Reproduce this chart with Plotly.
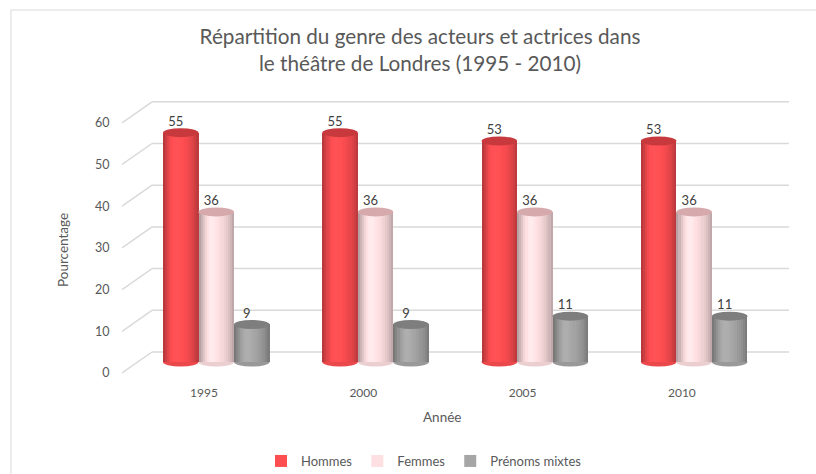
import plotly.graph_objects as go

# ---- data -------------------------------------------------------------
years = ["1995", "2000", "2005", "2010"]
hommes = [55, 55, 53, 53]
femmes = [36, 36, 36, 36]
mixtes = [9, 9, 11, 11]
series_names = ["Hommes", "Femmes", "Prénoms mixtes"]

# ---- geometry (pixels of the 816x474 page) ----------------------------
W, H = 816, 474
PLOT_L, PLOT_R = 122, 789          # plot area left/right
PLOT_T, PLOT_B = 95, 376           # plot area top/bottom
PX_PER_UNIT = 4.17                 # vertical scale
ZERO_PX = 362                      # pixel row of value 0 at bar depth
CAT0_PX, CAT_STEP = 204, 159.3     # first category label and spacing
FRONT = 11 / PX_PER_UNIT           # front plane lies below bar depth
BACK = 10 / PX_PER_UNIT            # back wall lies above bar depth
BACK_DX = 30 / CAT_STEP            # back wall starts to the right

y_range = [(ZERO_PX - PLOT_B) / PX_PER_UNIT, (ZERO_PX - PLOT_T) / PX_PER_UNIT]
x_range = [(PLOT_L - CAT0_PX) / CAT_STEP, (PLOT_R - CAT0_PX) / CAT_STEP]
x_front0 = x_range[0]


def px_paper_x(px):
    return (px - PLOT_L) / (PLOT_R - PLOT_L)


def px_paper_y(py):
    return (PLOT_B - py) / (PLOT_B - PLOT_T)


bar_w = 35.5 / CAT_STEP
first_off = (163 - CAT0_PX) / CAT_STEP
offsets = [first_off, first_off + bar_w, first_off + 2 * bar_w]

base_colors = [(255, 78, 82), (255, 224, 226), (166, 166, 166)]
top_colors = ["#c7393c", "#d6aaac", "#7e7e7e"]
# left-to-right lighting across a cylinder
shade = [0.72, 0.80, 0.88, 0.95, 1.0, 1.04, 1.05, 1.04, 1.02, 1.0, 0.98, 0.96,
         0.93, 0.90, 0.86, 0.81, 0.75]


def rgb(c, f=1.0):
    return "rgb(%d,%d,%d)" % tuple(max(0, min(255, round(v * f))) for v in c)


xs = list(range(len(years)))
fig = go.Figure()
shapes = []
ell_h = 9 / PX_PER_UNIT

# back wall gridlines and side-wall diagonals
for v in range(0, 61, 10):
    shapes.append(dict(type="line", xref="x", yref="y", layer="below",
                       x0=x_front0 + BACK_DX, x1=x_range[1], y0=v + BACK, y1=v + BACK,
                       line=dict(color="#d9d9d9", width=1.5)))
    shapes.append(dict(type="line", xref="x", yref="y", layer="below",
                       x0=x_front0, x1=x_front0 + BACK_DX, y0=v - FRONT, y1=v + BACK,
                       line=dict(color="#d9d9d9", width=1.5)))

# cylinders: each strip runs to the right edge so the next one covers it
n = len(shade)
strip_w = bar_w / n
for s, vals in enumerate([hommes, femmes, mixtes]):
    for k, f in enumerate(shade):
        fig.add_trace(go.Bar(
            x=xs, y=vals, name=series_names[s], legendgroup=series_names[s],
            showlegend=(k == 9), offset=offsets[s] + k * strip_w, width=bar_w - k * strip_w,
            marker=dict(color=rgb(base_colors[s], f), line=dict(width=0)),
            hoverinfo="skip",
        ))
    for i, v in enumerate(vals):
        x0 = i + offsets[s]
        shapes.append(dict(type="circle", xref="x", yref="y", layer="between",
                           x0=x0, x1=x0 + bar_w, y0=-ell_h / 2, y1=ell_h / 2,
                           fillcolor=rgb(base_colors[s], 0.92), line=dict(width=0)))
        shapes.append(dict(type="circle", xref="x", yref="y", layer="above",
                           x0=x0, x1=x0 + bar_w, y0=v - ell_h / 2, y1=v + ell_h / 2,
                           fillcolor=top_colors[s], line=dict(width=0)))

# value labels, lifted just above the cylinder caps by an invisible marker
lab_x, lab_y, lab_t = [], [], []
for s, vals in enumerate([hommes, femmes, mixtes]):
    for i, v in enumerate(vals):
        lab_x.append(i + offsets[s] + bar_w / 2 - 5 / CAT_STEP)
        lab_y.append(v)
        lab_t.append(str(v))
fig.add_trace(go.Scatter(x=lab_x, y=lab_y, text=lab_t, mode="markers+text",
                         marker=dict(size=4, color="rgba(0,0,0,0)"),
                         textposition="top center", showlegend=False, hoverinfo="skip",
                         textfont=dict(size=13, color="#404040")))

# front-plane axis carrying the value tick labels
fig.add_trace(go.Scatter(x=[None], y=[None], yaxis="y2", showlegend=False, hoverinfo="skip"))

# chart border
shapes.append(dict(type="rect", xref="paper", yref="paper", layer="below",
                   x0=px_paper_x(11), x1=px_paper_x(W + 40),
                   y0=px_paper_y(H + 40), y1=px_paper_y(10),
                   line=dict(color="#d9d9d9", width=1), fillcolor="rgba(0,0,0,0)"))

font_family = "Lato, 'Open Sans', sans-serif"
fig.update_layout(
    width=W, height=H,
    margin=dict(l=PLOT_L, r=W - PLOT_R, t=PLOT_T, b=H - PLOT_B, autoexpand=False),
    paper_bgcolor="white", plot_bgcolor="rgba(0,0,0,0)",
    font=dict(family=font_family, color="#595959", size=12),
    barmode="overlay", bargap=0,
    title=dict(text="Répartition du genre des acteurs et actrices dans<br>le théâtre de Londres (1995 - 2010)",
               x=420 / W, xanchor="center", xref="container",
               y=1 - 44 / H, yanchor="middle", yref="container",
               font=dict(size=20.7, color="#595959")),
    xaxis=dict(range=x_range, tickvals=xs, ticktext=years, showgrid=False, zeroline=False,
               showline=False, ticks="outside", ticklen=6, tickcolor="rgba(0,0,0,0)",
               tickfont=dict(size=12, color="#595959"), fixedrange=True),
    yaxis=dict(range=y_range, visible=False, fixedrange=True),
    yaxis2=dict(range=[y_range[0] + FRONT, y_range[1] + FRONT], overlaying="y", side="left",
                anchor="x", tickvals=list(range(0, 61, 10)), showgrid=False, zeroline=False,
                showline=False, ticks="outside", ticklen=9, tickcolor="rgba(0,0,0,0)",
                tickfont=dict(size=12.5, color="#595959"), fixedrange=True),
    legend=dict(orientation="h", x=px_paper_x(424), xanchor="center",
                y=px_paper_y(461), yanchor="middle", font=dict(size=13, color="#595959"),
                traceorder="normal", itemwidth=30),
    shapes=shapes,
    annotations=[
        dict(text="Pourcentage", textangle=-90, x=px_paper_x(63), y=px_paper_y(250),
             xref="paper", yref="paper", showarrow=False, xanchor="center", yanchor="middle",
             font=dict(size=13.5, color="#595959")),
        dict(text="Année", x=px_paper_x(442), y=px_paper_y(417), xref="paper", yref="paper",
             showarrow=False, xanchor="center", yanchor="middle",
             font=dict(size=13.5, color="#595959")),
    ],
)

fig.write_html("out.html")
